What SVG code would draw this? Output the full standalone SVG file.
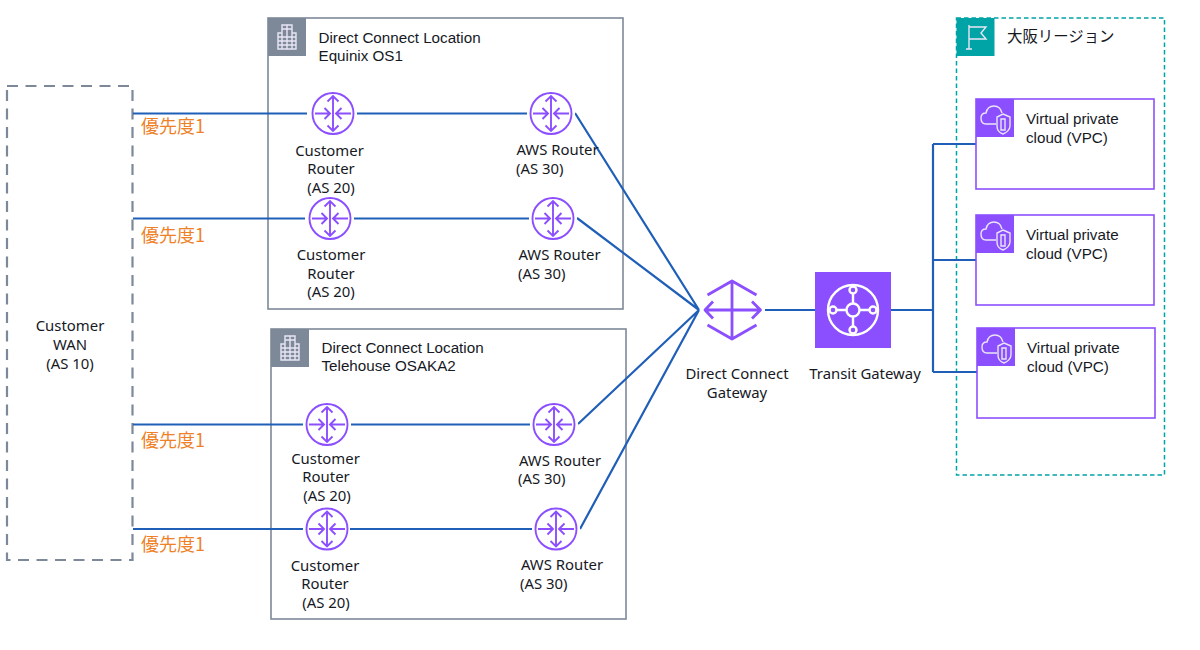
<svg xmlns="http://www.w3.org/2000/svg" width="1200" height="650" viewBox="0 0 1200 650">
<style>
text{font-family:"Liberation Sans",Arial,"Noto Sans CJK JP",sans-serif;font-size:15.2px;fill:#16191f;text-anchor:middle}
.n{font-family:"Noto Sans","Liberation Sans",sans-serif;font-size:14.9px}
.l{text-anchor:start}
.o{fill:#ec6c00;font-size:18px;text-anchor:start;font-family:"Noto Sans CJK JP","Liberation Sans",sans-serif;opacity:.85}
.box{fill:#fff;stroke:#7d8998;stroke-width:1.6}
.vpc{fill:#fff;stroke:#8c4fff;stroke-width:1.6}
.wire{fill:none;stroke:#1f5fb8;stroke-width:2.2}
.ic{fill:none;stroke:#8c4fff;stroke-width:1.9}
.wh{fill:none;stroke:#e9e6f5;stroke-width:1.4}
.wh2{fill:none;stroke:#fff;stroke-width:2.4}
.dcg{fill:none;stroke:#8c4fff;stroke-width:2.8}
</style>
<defs>
<g id="router">
<circle r="20.500" class="ic"/>
<path class="ic" d="M0-17V17M-5.500-12L0-17.500L5.500-12M-5.500 12L0 17.500L5.500 12M-18 0H-3M-8.500-5.500L-3 0L-8.500 5.500M18 0H3M8.500-5.500L3 0L8.500 5.500"/>
</g>
<g id="bld">
<rect width="38" height="38" fill="#7d8998"/>
<path class="wh" d="M10 31V15H14V7H24V15H28V31ZM14 15V31M24 15V31M19 7V31M14 11H24M10 19H28M10 23H28M10 27H28"/>
</g>
<g id="vpcicon">
<rect width="38" height="38" fill="#8c4fff"/>
<path class="wh" d="M20 25H10C6 25 5 22 5 19C5 16 7 14 10 14C11 9 14 7 18 7C22 7 25 10 26 14"/>
<path class="wh" d="M27 15L34 18V27C34 31 30 34 27 35C24 34 21 31 21 27V18ZM25 20H29V31H25Z"/>
</g>
</defs>
<g id="customer-wan">
<rect x="7" y="86" width="125.500" height="474" fill="#fff" stroke="#7d8998" stroke-width="2.2" stroke-dasharray="11 7.500"/>
<text class="n" x="70" y="330.500">Customer</text><text class="n" x="70" y="349.500">WAN</text><text class="n" x="70" y="368.500">(AS 10)</text>
</g>
<g id="dc-equinix">
<rect class="box" x="268" y="18" width="355" height="291"/>
<use href="#bld" x="268" y="18"/>
<text class="l" x="318.500" y="42.500">Direct Connect Location</text><text class="l" x="318.500" y="61">Equinix OS1</text>
</g>
<g id="dc-telehouse">
<rect class="box" x="271" y="329" width="355" height="290"/>
<use href="#bld" x="271" y="329"/>
<text class="l" x="321.500" y="353">Direct Connect Location</text><text class="l" x="321.500" y="371">Telehouse OSAKA2</text>
</g>
<g id="region">
<rect x="956.500" y="18" width="208" height="457" fill="#fff" stroke="#00a4a6" stroke-width="1.5" stroke-dasharray="4.500 3"/>
<rect x="956.500" y="18" width="38" height="38" fill="#00a4a6"/>
<path class="wh" d="M969 25V49M966 49H972M969 27H986L981 33L986 39H969"/>
<text class="l" x="1007" y="42" style="font-size:15.400px;font-family:'Noto Sans CJK JP',sans-serif">大阪リージョン</text>
</g>
<g id="connectors">
<path class="wire" d="M133 113.500H307M356 113.500H527M133 218.500H305M353 218.500H529M133 424.500H303M351 424.500H530M133 529H303M350 529H532"/>
<path class="wire" d="M575 113L699 310M577 218L699 310M578 424L699 310M580 529L699 310M765 310H815M891 310H933M933 144V372M933 144H976M933 260H976M933 372H977"/>
</g>
<g id="vpc-1"><rect class="vpc" x="976" y="99" width="178" height="90"/><use href="#vpcicon" x="976" y="99"/><text class="l" x="1026" y="124">Virtual private</text><text class="l" x="1026" y="143">cloud (VPC)</text></g>
<g id="vpc-2"><rect class="vpc" x="976" y="215" width="178" height="90"/><use href="#vpcicon" x="976" y="215"/><text class="l" x="1026" y="240">Virtual private</text><text class="l" x="1026" y="259">cloud (VPC)</text></g>
<g id="vpc-3"><rect class="vpc" x="977" y="328" width="178" height="90"/><use href="#vpcicon" x="977" y="328"/><text class="l" x="1027" y="353">Virtual private</text><text class="l" x="1027" y="372">cloud (VPC)</text></g>
<g id="router-c1"><circle cx="333" cy="113.500" r="24" fill="#fff"/><use href="#router" x="333" y="113.500"/><text class="n" x="329.500" y="155.500">Customer</text><text class="n" x="331" y="174">Router</text><text class="n" x="331" y="192.500">(AS 20)</text></g>
<g id="router-a1"><circle cx="551" cy="113.500" r="24" fill="#fff"/><use href="#router" x="551" y="113.500"/><text class="n" x="557.500" y="155">AWS Router</text><text class="n l" x="516" y="173.500">(AS 30)</text></g>
<g id="router-c2"><circle cx="330" cy="218.500" r="24" fill="#fff"/><use href="#router" x="330" y="218.500"/><text class="n" x="331" y="260">Customer</text><text class="n" x="331" y="278.500">Router</text><text class="n" x="331" y="297">(AS 20)</text></g>
<g id="router-a2"><circle cx="553" cy="218.500" r="24" fill="#fff"/><use href="#router" x="553" y="218.500"/><text class="n" x="559.500" y="260">AWS Router</text><text class="n l" x="518" y="278.500">(AS 30)</text></g>
<g id="router-c3"><circle cx="327" cy="424.500" r="24" fill="#fff"/><use href="#router" x="327" y="424.500"/><text class="n" x="325.500" y="463.500">Customer</text><text class="n" x="326" y="482">Router</text><text class="n" x="327" y="500.500">(AS 20)</text></g>
<g id="router-a3"><circle cx="554" cy="424.500" r="24" fill="#fff"/><use href="#router" x="554" y="424.500"/><text class="n" x="560" y="465.500">AWS Router</text><text class="n l" x="518" y="484">(AS 30)</text></g>
<g id="router-c4"><circle cx="327" cy="529" r="23" fill="#fff"/><use href="#router" x="327" y="529"/><text class="n" x="325" y="570.500">Customer</text><text class="n" x="325" y="589">Router</text><text class="n" x="326" y="607.500">(AS 20)</text></g>
<g id="router-a4"><circle cx="556" cy="529" r="24" fill="#fff"/><use href="#router" x="556" y="529"/><text class="n" x="562" y="570">AWS Router</text><text class="n l" x="520" y="588.500">(AS 30)</text></g>
<g id="direct-connect-gateway">
<path class="dcg" d="M707.500 295L732 281L756.500 295M707.500 325L732 339L756.500 325M732 281V339M705 310H760M713 301.500L705 310L713 318.500M752 301.500L760.500 310L752 318.500" stroke-linejoin="round"/>
<text class="n" x="737" y="378.500">Direct Connect</text><text class="n" x="737" y="397.500">Gateway</text>
</g>
<g id="transit-gateway">
<rect x="815" y="272" width="76" height="76" fill="#8c4fff"/>
<circle cx="853" cy="310" r="25" class="wh2"/><circle cx="853" cy="310" r="6.500" class="wh2"/>
<path class="wh2" d="M853 289V303M853 317V331M832 310H846M860 310H874"/>
<circle cx="853" cy="290" r="3.500" class="wh2" style="fill:#8c4fff"/><circle cx="853" cy="330" r="3.500" class="wh2" style="fill:#8c4fff"/><circle cx="833" cy="310" r="3.500" class="wh2" style="fill:#8c4fff"/><circle cx="873" cy="310" r="3.500" class="wh2" style="fill:#8c4fff"/>
<text class="n" x="865" y="379">Transit Gateway</text>
</g>
<g id="labels">
<text class="o" x="141" y="133">優先度1</text><text class="o" x="141" y="242">優先度1</text><text class="o" x="141" y="447">優先度1</text><text class="o" x="141" y="551">優先度1</text>
</g>
</svg>
